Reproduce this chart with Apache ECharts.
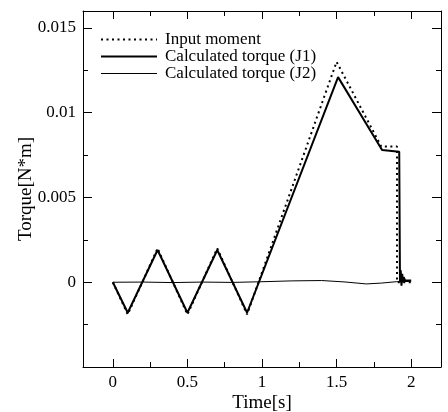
<!DOCTYPE html>
<html>
<head>
<meta charset="utf-8">
<script src="https://cdn.jsdelivr.net/npm/echarts@6/dist/echarts.min.js"></script>
<style>html,body{margin:0;padding:0;background:#fff;}#c{width:448px;height:412px;}</style>
</head>
<body>
<div id="c"></div>
<script>
// Data
const seriesNames = ['Input moment', 'Calculated torque (J1)', 'Calculated torque (J2)'];
const inputMoment = [[0,0],[0.1,-0.0019],[0.3,0.002],[0.5,-0.0019],[0.7,0.002],[0.9,-0.0019],[1.5,0.013],[1.8,0.008],[1.905,0.008],[1.905,0],[2.0,0]];
const torqueJ1 = [[0,0],[0.1,-0.0018],[0.3,0.0019],[0.5,-0.0018],[0.7,0.0019],[0.9,-0.0018],[1.51,0.0121],[1.805,0.0078],[1.92,0.0077],[1.925,0],[1.93,0.0007],[1.935,-0.0002],[1.94,0.0005],[1.945,0.0000],[1.95,0.0003],[1.96,0.0001],[1.97,0.0002],[2.0,0.0001]];
const torqueJ2 = [[0,0],[0.2,0.00001],[0.4,-0.00002],[0.6,0.00001],[0.8,-0.00001],[1.0,0.00003],[1.2,0.00008],[1.4,0.0001],[1.55,0.00002],[1.7,-0.0001],[1.8,-0.00005],[1.9,0.00003],[2.0,0.00005]];
const xMajorTicks = [0,0.5,1,1.5,2];
const xMinorTicks = [0.25,0.75,1.25,1.75];
const xLabels = ['0','0.5','1','1.5','2'];
const yTickLabels = {'0':'0','0.005':'0.005','0.01':'0.01','0.015':'0.015'};

const font = 'Liberation Serif';
const black = '#000';
const xMin = -0.2, xMax = 2.2, yMin = -0.005, yMax = 0.016;
const lineWidths = [2, 2, 1];
const lineTypes = [[2, 3.5], 'solid', 'solid'];

function xAxisDef(pos, customTicks, len, showLine, showLabel) {
  return {
    type: 'value', position: pos, min: xMin, max: xMax,
    axisLine: {show: showLine, onZero: false, lineStyle: {color: black, width: 1}},
    axisTick: {show: true, inside: true, length: len, customValues: customTicks, lineStyle: {color: black, width: 1}},
    axisLabel: showLabel ? {show: true, customValues: xMajorTicks, color: black, fontFamily: font, fontSize: 17, margin: 7,
      formatter: v => xLabels[xMajorTicks.indexOf(Math.round(v*100)/100)] ?? ''} : {show: false},
    splitLine: {show: false},
    name: showLabel ? 'Time[s]' : '', nameLocation: 'middle', nameGap: 27, nameMoveOverlap: false,
    nameTextStyle: {color: black, fontFamily: font, fontSize: 19, verticalAlign: 'top'}
  };
}
function yAxisDef(pos, showLabel) {
  return {
    type: 'value', position: pos, min: yMin, max: yMax, interval: 0.005,
    axisLine: {show: true, onZero: false, lineStyle: {color: black, width: 1}},
    axisTick: {show: true, inside: true, length: 9, lineStyle: {color: black, width: 1}},
    minorTick: {show: true, splitNumber: 2, length: 5, lineStyle: {color: black, width: 1}},
    axisLabel: showLabel ? {show: true, color: black, fontFamily: font, fontSize: 17, margin: 7,
      formatter: v => { const k = String(Math.round(v*1000)/1000); return yTickLabels[k] ?? ''; }} : {show: false},
    splitLine: {show: false}, minorSplitLine: {show: false},
    name: showLabel ? 'Torque[N*m]' : '', nameLocation: 'middle', nameGap: 47, nameMoveOverlap: false,
    nameTextStyle: {color: black, fontFamily: font, fontSize: 19}
  };
}

const chart = echarts.init(document.getElementById('c'), null, {renderer: 'canvas'});
chart.setOption({
  animation: false,
  backgroundColor: '#fff',
  grid: {left: 83, right: 7, top: 11, bottom: 45, containLabel: false, outerBoundsMode: 'none'},
  legend: {
    orient: 'vertical', left: 95, top: 26, itemWidth: 56, itemHeight: 10, itemGap: 0,
    textStyle: {color: black, fontFamily: font, fontSize: 17, lineHeight: 17, padding: [0, 0, 0, 3]},
    itemStyle: {opacity: 0},
    data: seriesNames.map((n, i) => ({name: n, lineStyle: {width: lineWidths[i], type: lineTypes[i], color: black}})),
    selectedMode: false
  },
  xAxis: [
    xAxisDef('bottom', xMajorTicks, 8, true, true),
    xAxisDef('bottom', xMinorTicks, 5, false, false),
    xAxisDef('top', xMajorTicks, 8, true, false),
    xAxisDef('top', xMinorTicks, 5, false, false)
  ],
  yAxis: [yAxisDef('left', true), yAxisDef('right', false)],
  series: [
    {name: seriesNames[0], type: 'line', data: inputMoment, showSymbol: false, symbol: 'none',
      lineStyle: {color: black, width: lineWidths[0], type: lineTypes[0]}, itemStyle: {color: black}},
    {name: seriesNames[1], type: 'line', data: torqueJ1, showSymbol: false, symbol: 'none',
      lineStyle: {color: black, width: lineWidths[1], type: lineTypes[1]}, itemStyle: {color: black}},
    {name: seriesNames[2], type: 'line', data: torqueJ2, showSymbol: false, symbol: 'none',
      lineStyle: {color: black, width: lineWidths[2], type: lineTypes[2]}, itemStyle: {color: black}}
  ]
});
</script>
</body>
</html>
